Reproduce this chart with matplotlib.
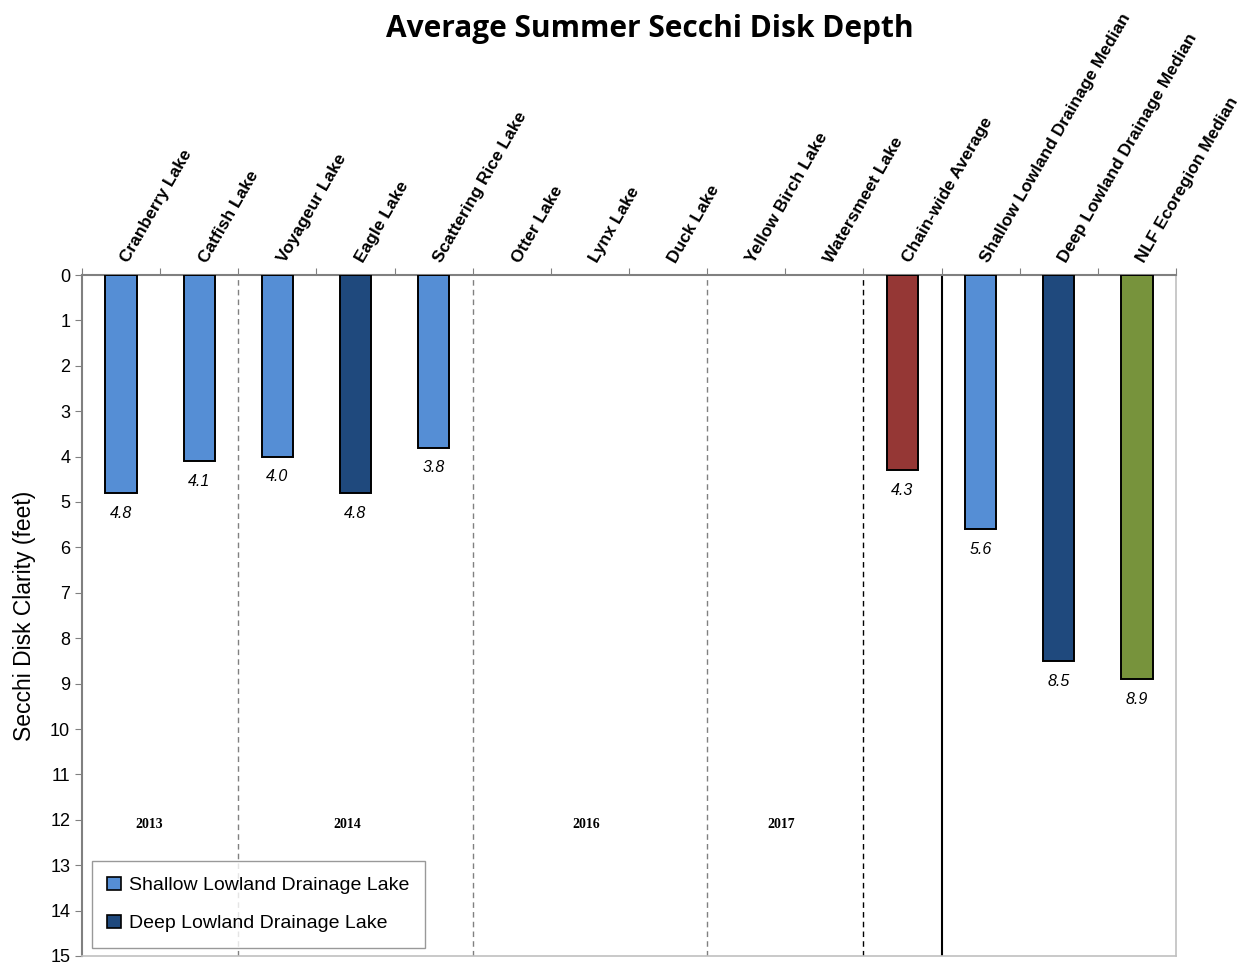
import matplotlib.pyplot as plt
import numpy as np

lakes = ["Cranberry Lake", "Catfish Lake", "Voyageur Lake", "Eagle Lake",
         "Scattering Rice Lake", "Otter Lake", "Lynx Lake", "Duck Lake",
         "Yellow Birch Lake", "Watersmeet Lake", "Chain-wide Average",
         "Shallow Lowland Drainage Median", "Deep Lowland Drainage Median",
         "NLF Ecoregion Median"]
depths = [4.8, 4.1, 4.0, 4.8, 3.8, None, None, None, None, None, 4.3, 5.6, 8.5, 8.9]
lake_types = ["shallow", "shallow", "shallow", "deep", "shallow", None, None, None,
              None, None, "chain", "shallow", "deep", "eco"]
years = ["2013", "2014", "2016", "2017"]
year_pos = [0.36, 2.9, 5.95, 8.45]
dashed_after = [1, 4, 7]
dotted_after = [9]
solid_after = [10]

colors = {"shallow": "#558ED5", "deep": "#1F497D", "chain": "#953735", "eco": "#77933C"}

plt.rcParams["font.family"] = ["Liberation Sans", "DejaVu Sans"]
fig = plt.figure(figsize=(12.52, 9.64), dpi=100)
ax = fig.add_axes([82 / 1252, 1 - 956 / 964, (1176 - 82) / 1252, (956 - 275) / 964])

x = np.arange(len(lakes))
for xi, d, t in zip(x, depths, lake_types):
    if d is None:
        continue
    ax.bar(xi, d, width=0.4, color=colors[t], edgecolor="black", linewidth=1.4, zorder=3)
    ax.text(xi, d + 0.28, f"{d:.1f}", ha="center", va="top", fontsize=11.5, style="italic")

ax.set_xlim(-0.5, len(lakes) - 0.5)
ax.set_ylim(15, 0)
ax.set_yticks(range(0, 16))
ax.tick_params(axis="y", labelsize=13, length=5, color="#808080", direction="out")

ax.xaxis.tick_top()
ax.set_xticks(np.arange(len(lakes) + 1) - 0.5, minor=False)
ax.set_xticklabels([])
ax.tick_params(axis="x", length=5, color="#808080", direction="out", top=True, bottom=False)

for i, name in enumerate(lakes):
    ax.text(i + 0.05, -0.3, name, rotation=60, rotation_mode="anchor", ha="left", va="center",
            fontsize=12.5, fontweight="bold", transform=ax.transData)

for b in dashed_after:
    ax.axvline(b + 0.5, color="#808080", linestyle=(0, (4, 3)), linewidth=1.0, zorder=1)
for b in dotted_after:
    ax.axvline(b + 0.5, color="black", linestyle=(0, (4, 3)), linewidth=1.0, zorder=1)
for b in solid_after:
    ax.axvline(b + 0.5, color="black", linewidth=1.5, zorder=1)

for yr, xp in zip(years, year_pos):
    ax.text(xp, 12.1, yr, ha="center", va="center", fontsize=10, fontweight="bold",
            family="Liberation Serif")

for side in ["left", "top"]:
    ax.spines[side].set_color("#808080")
    ax.spines[side].set_linewidth(1.5)
for side in ["right", "bottom"]:
    ax.spines[side].set_color("#C0C0C0")
    ax.spines[side].set_linewidth(1.2)

ax.set_ylabel("Secchi Disk Clarity (feet)", fontsize=16.5, labelpad=10)

handles = [plt.Rectangle((0, 0), 1, 1, facecolor=colors["shallow"], edgecolor="black", linewidth=1.2),
           plt.Rectangle((0, 0), 1, 1, facecolor=colors["deep"], edgecolor="black", linewidth=1.2)]
leg = ax.legend(handles, ["Shallow Lowland Drainage Lake", "Deep Lowland Drainage Lake"],
                loc="lower left", bbox_to_anchor=(0.009, 0.012), borderaxespad=0,
                fontsize=14, frameon=True,
                fancybox=False, edgecolor="#808080", handlelength=0.7, handleheight=0.7,
                handletextpad=0.4, labelspacing=1.05, borderpad=0.8)
leg.get_frame().set_linewidth(1.0)

fig.text(0.519, 1 - 29 / 964, "Average Summer Secchi Disk Depth", ha="center", va="center",
         fontsize=21.5, fontweight="bold", family=["Open Sans", "DejaVu Sans"])

fig.savefig("out.png", dpi=100)
